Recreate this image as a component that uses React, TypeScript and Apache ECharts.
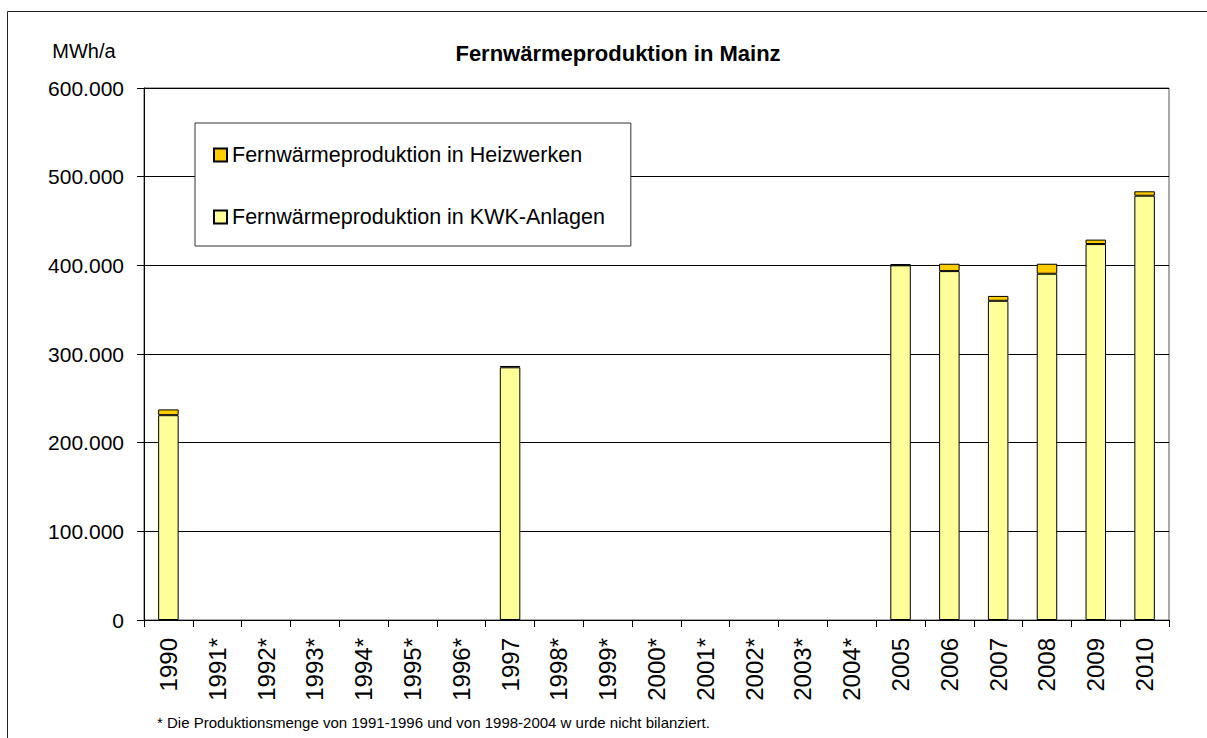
import React, { useEffect, useRef } from "react";
import * as echarts from "echarts";

const categories = [
  "1990", "1991*", "1992*", "1993*", "1994*", "1995*", "1996*", "1997",
  "1998*", "1999*", "2000*", "2001*", "2002*", "2003*", "2004*",
  "2005", "2006", "2007", "2008", "2009", "2010",
];
const kwkValues = [
  231000, null, null, null, null, null, null, 285000,
  null, null, null, null, null, null, null,
  400000, 393500, 360000, 390500, 424000, 478500,
];
const heizValues = [
  6500, null, null, null, null, null, null, 1500,
  null, null, null, null, null, null, null,
  1500, 8300, 5500, 11300, 5000, 5000,
];
const yTicks = { min: 0, max: 600000, interval: 100000 };

const FONT = "'Liberation Sans', Arial, sans-serif";
const KWK = "Fernwärmeproduktion in KWK-Anlagen";
const HEIZ = "Fernwärmeproduktion in Heizwerken";

function fmt(v: number) {
  return String(Math.round(v)).replace(/\B(?=(\d{3})+(?!\d))/g, ".");
}

export default function App() {
  const ref = useRef<HTMLDivElement>(null);
  useEffect(() => {
    if (!ref.current) return;
    const chart = echarts.init(ref.current, null, { renderer: "svg" });
    chart.setOption({
      animation: false,
      backgroundColor: "#fff",
      textStyle: { fontFamily: FONT },
      title: {
        text: "Fernwärmeproduktion in Mainz",
        left: 613,
        top: 37,
        textAlign: "center",
        textStyle: { fontFamily: FONT, fontSize: 22, fontWeight: "bold", color: "#000" },
      },
      grid: {
        left: 144, right: 38, top: 88, bottom: 118,
        show: true, borderColor: "#555", borderWidth: 1, backgroundColor: "transparent",
      },
      legend: {
        orient: "vertical",
        left: 195,
        top: 123,
        padding: [20, 26, 17, 18],
        itemGap: 38,
        itemWidth: 13,
        itemHeight: 13,
        icon: "rect",
        backgroundColor: "#fff",
        borderColor: "#333",
        borderWidth: 1,
        borderRadius: 0,
        data: [HEIZ, KWK],
        textStyle: { fontFamily: FONT, fontSize: 21.5, color: "#000", lineHeight: 24 },
      },
      xAxis: {
        type: "category",
        data: categories,
        axisLine: { lineStyle: { color: "#000", width: 1 } },
        axisTick: { show: true, length: 7, lineStyle: { color: "#000" } },
        axisLabel: {
          rotate: 90, margin: 18, interval: 0, fontSize: 24,
          color: "#000", fontFamily: FONT,
        },
      },
      yAxis: {
        type: "value",
        min: yTicks.min,
        max: yTicks.max,
        interval: yTicks.interval,
        axisLine: { show: true, lineStyle: { color: "#000", width: 1 } },
        axisTick: { show: true, length: 7, lineStyle: { color: "#000" } },
        splitLine: { show: true, lineStyle: { color: "#000", width: 1 } },
        axisLabel: {
          margin: 20, fontSize: 21, color: "#000", fontFamily: FONT,
          formatter: (v: number) => fmt(v),
        },
      },
      series: [
        {
          name: KWK,
          type: "bar",
          stack: "total",
          barWidth: "42%",
          data: kwkValues,
          itemStyle: { color: "#FFFF99", borderColor: "#000", borderWidth: 1 },
        },
        {
          name: HEIZ,
          type: "bar",
          stack: "total",
          barWidth: "42%",
          data: heizValues,
          itemStyle: { color: "#FFCC00", borderColor: "#000", borderWidth: 1 },
        },
      ],
      graphic: [
        { type: "line", shape: { x1: 7.5, y1: 11.5, x2: 1207, y2: 11.5 }, style: { stroke: "#222", lineWidth: 1 } },
        { type: "line", shape: { x1: 7.5, y1: 11.5, x2: 7.5, y2: 738 }, style: { stroke: "#222", lineWidth: 1 } },
        {
          type: "text", x: 84, y: 51,
          style: { text: "MWh/a", fontFamily: FONT, fontSize: 20, fill: "#000", textAlign: "center", textVerticalAlign: "middle" },
        },
        {
          type: "text", x: 157, y: 722,
          style: {
            text: "* Die Produktionsmenge von 1991-1996 und von 1998-2004 w urde nicht bilanziert.",
            fontFamily: FONT, fontSize: 15, fill: "#000", textAlign: "left", textVerticalAlign: "middle",
          },
        },
      ],
    });
    return () => chart.dispose();
  }, []);
  return (
    <div
      ref={ref}
      style={{ position: "fixed", left: 0, top: 0, width: 1207, height: 738 }}
    />
  );
}
